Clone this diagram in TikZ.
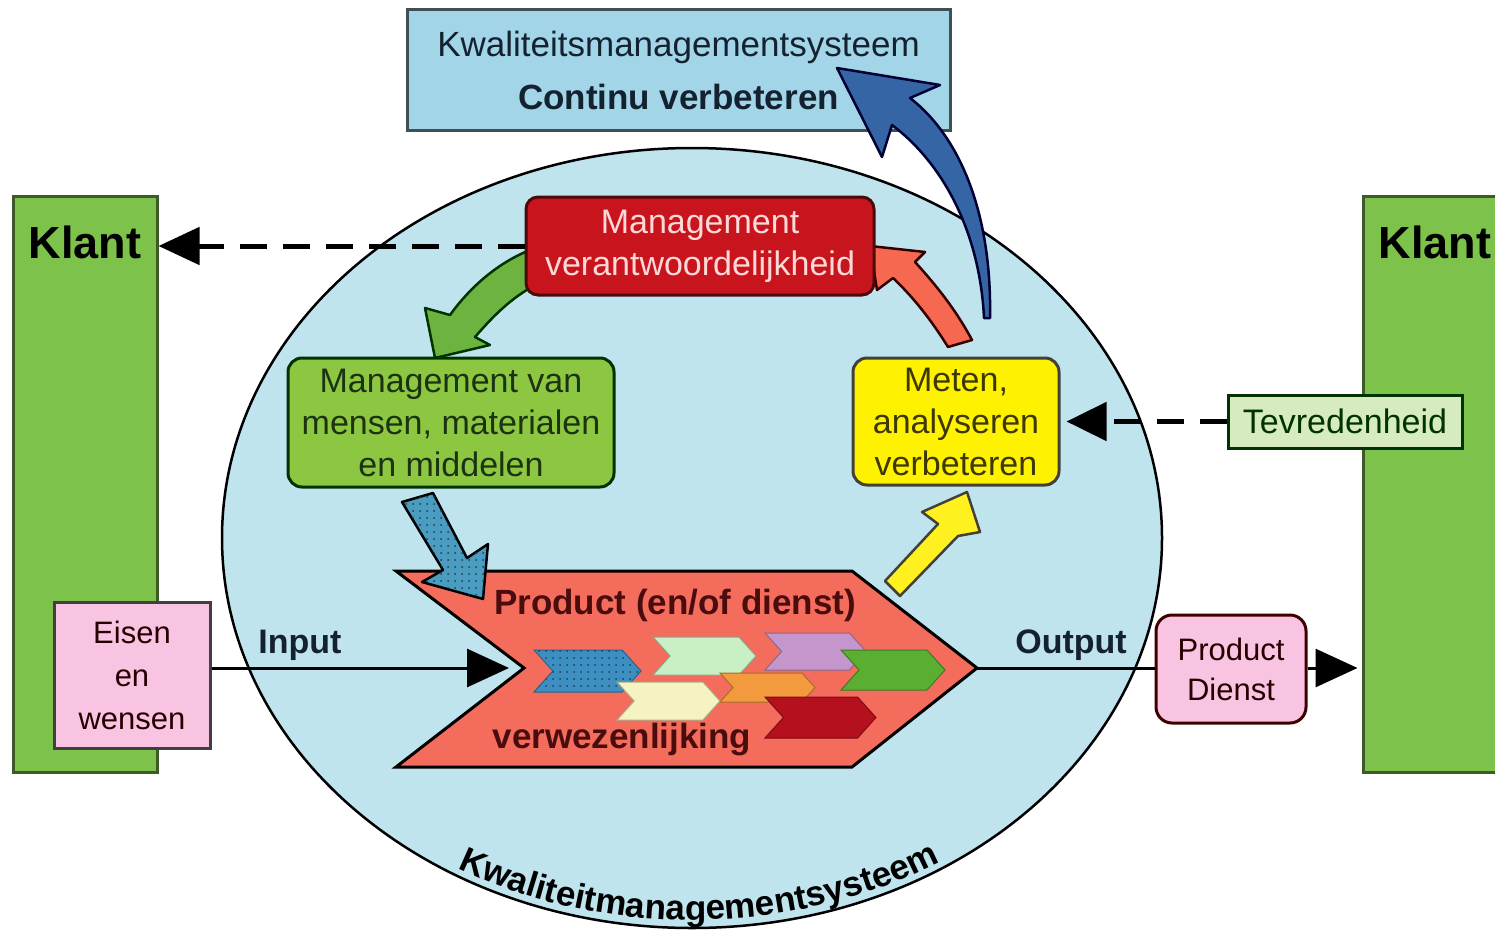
\documentclass[tikz,border=0pt]{standalone}
\usepackage{fontspec}
\setmainfont{Liberation Sans}
\usetikzlibrary{arrows.meta,decorations.text,patterns.meta}
\definecolor{topblue}{HTML}{A2D5E8}
\definecolor{topborder}{HTML}{3F4F55}
\definecolor{ellblue}{HTML}{C0E4EE}
\definecolor{klantgreen}{HTML}{7DC24A}
\definecolor{klantborder}{HTML}{3D5A28}
\definecolor{pinkfill}{HTML}{F8C4E2}
\definecolor{mvred}{HTML}{C8141C}
\definecolor{mvborder}{HTML}{4A0A0A}
\definecolor{mvtext}{HTML}{FFD8D8}
\definecolor{mmgreen}{HTML}{8DC641}
\definecolor{mmtext}{HTML}{1C3312}
\definecolor{mtyellow}{HTML}{FFF200}
\definecolor{mttext}{HTML}{3C3800}
\definecolor{tvfill}{HTML}{D7EBC1}
\definecolor{prodfill}{HTML}{F36C5C}
\definecolor{prodtext}{HTML}{4A0C0C}
\definecolor{chblue}{HTML}{3D8FC2}
\definecolor{chpale}{HTML}{C9EFC4}
\definecolor{chpurple}{HTML}{C596CC}
\definecolor{chgreen}{HTML}{5AAE32}
\definecolor{chorange}{HTML}{F39A3E}
\definecolor{chcream}{HTML}{F6F3C2}
\definecolor{chred}{HTML}{B5101E}
\definecolor{arrgreen}{HTML}{6CB33F}
\definecolor{arrsalmon}{HTML}{F66850}
\definecolor{arrblue}{HTML}{3565A5}
\definecolor{arrteal}{HTML}{4A9CC0}
\definecolor{arryellow}{HTML}{FFF020}
\definecolor{textdark}{HTML}{142230}
\newcommand\prodchev[5]{%
  \filldraw[draw=#5!70!black, fill=#5, line width=1pt]
    (#1,#2) -- ({#3-0.45*(#4-#2)},#2) -- (#3,{(#2+#4)/2})
    -- ({#3-0.45*(#4-#2)},#4) -- (#1,#4) -- ({#1+0.45*(#4-#2)},{(#2+#4)/2}) -- cycle;}
\begin{document}
\begin{tikzpicture}[x=1pt,y=-1pt,
  box/.style={draw, line width=3pt, inner sep=0pt, align=center},
  txt/.style={font=\fontsize{34}{42}\selectfont},
  conn/.style={line width=3pt, draw=black},
  dashline/.style={line width=5pt, dash pattern=on 27pt off 16pt},
  bigtip/.style={-{Triangle[length=42pt,width=38pt]}},
  blockarrow/.style={line width=2.5pt, line join=round}]
\useasboundingbox (0,0) rectangle (1495,931);
\clip (0,0) rectangle (1495,931);
\fill[white] (0,0) rectangle (1495,931);

% ellipse
\filldraw[fill=ellblue, draw=black, line width=2.5pt] (692,538) ellipse [x radius=470, y radius=390];

% Klant bars
\node[box, draw=klantborder, fill=klantgreen, minimum width=144pt, minimum height=576pt] (klantL) at (85,484) {};
\node[font=\fontsize{45}{50}\selectfont\bfseries, text=black] (klantLt) at (85,242) {Klant};
\node[box, draw=klantborder, fill=klantgreen, minimum width=150pt, minimum height=576pt] (klantR) at (1438,484) {};
\node[font=\fontsize{45}{50}\selectfont\bfseries, text=black] (klantRt) at (1435,242) {Klant};

% top box
\node[box, draw=topborder, fill=topblue, minimum width=543pt, minimum height=120pt,
      font=\fontsize{35}{53}\selectfont, text=textdark] (kms) at (678.5,70)
      {Kwaliteitsmanagementsysteem\\\textbf{Continu verbeteren}};

% product chevron
\coordinate (notch) at (524,668);
\coordinate (ptip) at (977,668);
\filldraw[fill=prodfill, draw=black, line width=3pt, line join=miter]
  (396,571) -- (852,571) -- (ptip) -- (852,767) -- (396,767) -- (notch) -- cycle;

% small chevrons
\prodchev{534}{650}{641}{692}{chblue}
\fill[pattern={Dots[distance=7pt, radius=1pt]}, pattern color=chblue!45!black]
  (534,650) -- (622,650) -- (641,671) -- (622,692) -- (534,692) -- (553,671) -- cycle;
\prodchev{653}{637}{756}{675}{chpale}
\prodchev{765}{633}{866}{670}{chpurple}
\prodchev{841}{650}{945}{690}{chgreen}
\prodchev{720}{673}{815}{702}{chorange}
\prodchev{617}{682}{720}{720}{chcream}
\prodchev{765}{697}{876}{738}{chred}

\node[font=\fontsize{35}{40}\selectfont\bfseries, text=prodtext] (ptxt1) at (675,605) {Product (en/of dienst)};
\node[font=\fontsize{35}{40}\selectfont\bfseries, text=prodtext] (ptxt2) at (622,740) {verwezenlijking};

% teal dotted arrow into product
\filldraw[blockarrow, fill=arrteal, draw=black]
  (402,502) -- (433,493) -- (467,558) -- (488,544) -- (483,599) -- (422,582) -- (443,570) -- cycle;
\fill[pattern={Dots[distance=7pt, radius=1pt]}, pattern color=arrteal!40!black]
  (402,502) -- (433,493) -- (467,558) -- (488,544) -- (483,599) -- (422,582) -- (443,570) -- cycle;

% yellow arrow
\filldraw[blockarrow, fill=arryellow, draw=black!85!yellow]
  (885,581) -- (938,524) -- (922,512) -- (967,492) -- (980,532) -- (958,536) -- (900,596) -- cycle;

% green curved arrow
\filldraw[blockarrow, fill=arrgreen, draw=black!80!green]
  (530,250) .. controls (495,264) and (468,290) .. (450,315) -- (425,308) -- (435,358)
  -- (490,345) -- (475,337) .. controls (495,314) and (515,294) .. (542,282) -- cycle;

% salmon arrow
\filldraw[blockarrow, fill=arrsalmon, draw=black!80!red]
  (948,347) .. controls (930,318) and (912,296) .. (893,278) -- (877,290) -- (870,246)
  -- (925,252) -- (915,262) .. controls (936,285) and (956,310) .. (972,340) -- cycle;

% Management verantwoordelijkheid
\node[box, draw=mvborder, fill=mvred, rounded corners=12pt, minimum width=348pt, minimum height=98pt,
      txt, text=mvtext] (mv) at (700,246) {Management\\verantwoordelijkheid};

% blue curved arrow
\filldraw[blockarrow, fill=arrblue, draw=black!80!blue]
  (837,68) -- (940,85) -- (910,98) .. controls (958,135) and (992,210) .. (990,318)
  -- (984,318) .. controls (980,235) and (945,165) .. (892,125) -- (882,157) -- cycle;

% Management van mensen
\node[box, draw=black!80!green, fill=mmgreen, rounded corners=14pt, minimum width=326pt, minimum height=129pt,
      txt, text=mmtext] (mm) at (451,422.5) {Management van\\mensen, materialen\\en middelen};

% Meten
\node[box, draw=black!85!yellow, fill=mtyellow, rounded corners=14pt, minimum width=206pt, minimum height=127pt,
      txt, text=mttext] (mt) at (956,421.5) {Meten,\\analyseren\\verbeteren};

% Tevredenheid
\node[box, draw=black!80!green, fill=tvfill, minimum width=234pt, minimum height=53pt,
      txt, text=black!80!green] (tv) at (1345,421.5) {Tevredenheid};

% Eisen en wensen
\node[box, draw=black!75, fill=pinkfill, minimum width=156pt, minimum height=146pt,
      font=\fontsize{31}{43}\selectfont, text=black!85!red] (eisen) at (132,675) {Eisen\\en\\wensen};

% Product Dienst
\node[box, draw=black!75!red, fill=pinkfill, rounded corners=16pt, minimum width=150pt, minimum height=108pt,
      font=\fontsize{31}{40}\selectfont, text=black!85!red] (pd) at (1231,669) {Product\\Dienst};

% labels
\node[font=\fontsize{34}{40}\selectfont\bfseries, text=textdark] (inlab) at (300,645) {Input};
\node[font=\fontsize{34}{40}\selectfont\bfseries, text=textdark] (outlab) at (1071,645) {Output};

% connectors
\draw[conn, bigtip] (eisen.east |- notch) -- ([xshift=-15pt]notch);
\draw[conn] (ptip) -- (ptip -| pd.west);
\draw[conn, bigtip, shorten >=4pt] (pd.east |- ptip) -- (ptip -| klantR.west);
\draw[dashline, -{Triangle[length=41pt,width=37pt]}] (mv.west) -- (mv.west -| klantL.east);
\draw[dashline, -{Triangle[length=40pt,width=38pt]}, shorten >=6pt] (tv.west) -- (mt.east);

% curved text along ellipse bottom
\path[decorate, decoration={text along path, text align=center,
      text={|\fontsize{35}{40}\selectfont\bfseries|Kwaliteitmanagementsysteem}}]
  (692,538) ++(130:467 and 382) arc[start angle=130, end angle=48, x radius=467, y radius=382];
\end{tikzpicture}
\end{document}
